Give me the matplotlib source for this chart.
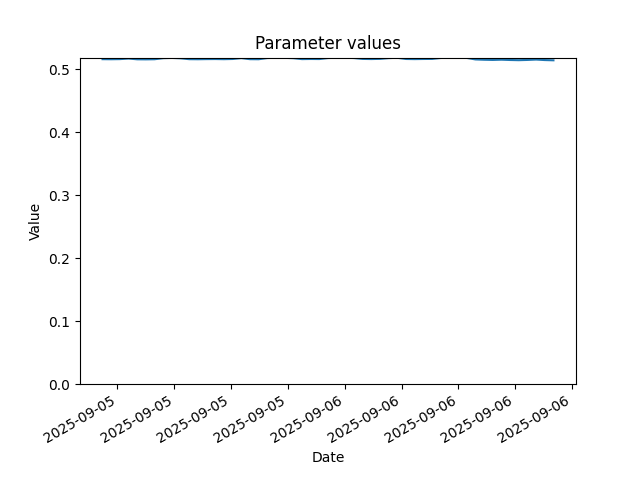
import matplotlib
matplotlib.use("Agg")
import matplotlib.pyplot as plt
import matplotlib.dates as mdates
import pandas as pd

# sample times (evenly spaced between first and last reading)
start_time = "2025-09-05 11:13"
end_time = "2025-09-06 11:01"

values = [
    0.5162, 0.5161, 0.5163, 0.5172, 0.5160, 0.5159, 0.5161, 0.5178, 0.5182, 0.5176,
    0.5162, 0.5161, 0.5163, 0.5164, 0.5162, 0.5165, 0.5179, 0.5162, 0.5161, 0.5180,
    0.5184, 0.5183, 0.5178, 0.5163, 0.5165, 0.5164, 0.5180, 0.5184, 0.5185, 0.5180,
    0.5166, 0.5164, 0.5167, 0.5179, 0.5184, 0.5165, 0.5163, 0.5165, 0.5166, 0.5181,
    0.5184, 0.5185, 0.5182, 0.5158, 0.5153, 0.5150, 0.5154, 0.5149, 0.5146, 0.5150,
    0.5156, 0.5148, 0.5144,
]

dates = pd.date_range(start_time, end_time, periods=len(values))

fig, ax = plt.subplots(figsize=(6.4, 4.8), dpi=100)
ax.plot(dates, values)
ax.set_ylim(bottom=0)
ax.set_title("Parameter values")
ax.set_xlabel("Date")
ax.set_ylabel("Value")
ax.xaxis.set_major_locator(mdates.HourLocator(byhour=range(0, 24, 3)))
ax.xaxis.set_major_formatter(mdates.DateFormatter("%Y-%m-%d"))
fig.autofmt_xdate()
fig.savefig("out.png")
